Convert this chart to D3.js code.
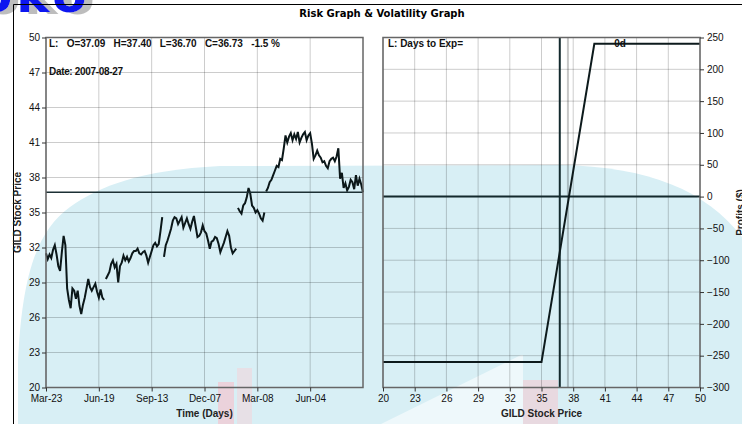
<!DOCTYPE html>
<html><head><meta charset="utf-8">
<script src="https://cdn.jsdelivr.net/npm/d3@7"></script>
<style>
html,body{margin:0;padding:0;background:#fff;}
svg{display:block;}
text{font-family:"Liberation Sans",Arial,sans-serif;}
</style></head>
<body>
<script>
// ---------- DATA ----------
const timeTickDays = [0, 60, 120, 180, 240, 300];
const timeTickLabels = ["Mar-23", "Jun-19", "Sep-13", "Dec-07", "Mar-08", "Jun-04"];
const priceTicks = [20, 23, 26, 29, 32, 35, 38, 41, 44, 47, 50];
const profitTicks = [250, 200, 150, 100, 50, 0, -50, -100, -150, -200, -250, -300];
const dayStep = 2; // trading days between samples
const closes = [
31.5,31.0,31.4,31.1,31.8,32.2,31.4,30.4,30.0,31.6,33.0,32.2,28.5,27.5,26.8,28.5,28.3,27.6,28.3,27.0,
26.3,27.1,27.7,28.5,29.3,28.6,28.3,28.6,28.9,28.2,27.7,28.4,27.7,27.5,29.3,29.6,29.9,30.6,30.9,30.3,
30.6,29.0,30.4,30.7,31.3,30.9,31.2,30.8,31.1,31.5,31.7,31.7,31.9,31.5,31.4,31.6,31.7,31.3,30.7,31.2,
31.7,32.2,32.4,32.1,32.3,33.4,34.6,31.2,32.2,32.6,33.1,33.6,34.3,34.6,34.5,34.0,34.3,34.6,33.7,34.1,
34.5,34.0,33.6,34.2,34.7,33.8,32.9,33.0,33.3,33.9,33.4,33.2,32.6,31.9,32.5,32.6,32.9,32.8,32.3,31.6,
32.0,32.4,32.9,33.4,33.0,32.0,31.5,31.7,31.9,35.4,35.1,34.9,35.6,35.8,36.3,37.1,36.6,35.6,35.4,35.0,
35.2,34.9,34.5,34.3,35.0,36.8,37.1,37.6,37.8,38.2,38.6,39.0,38.9,39.6,39.5,40.5,41.6,41.0,41.5,41.8,
41.2,41.7,41.3,41.9,41.0,41.4,41.7,41.9,41.2,41.6,41.8,40.9,39.6,39.9,40.3,39.9,39.7,39.3,39.4,39.0,
38.8,39.4,39.6,39.7,39.4,39.8,40.5,37.9,38.4,37.1,37.5,36.9,37.2,37.8,37.6,37.0,38.2,37.3,37.9,37.4,36.73];
const gapAfter = [33, 66, 108, 124]; // price gaps: no connection after these sample indices
const lastClose = 36.73;
const quoteText = "L:   O=37.09   H=37.40   L=36.70   C=36.73   -1.5 %";
const dateText = "Date: 2007-08-27";
const riskPrices = [20, 35, 40, 50];
const riskProfits = [-260, -260, 240, 240];
const markerPrice = 37.5;
const expiryLabel = "0d";

// ---------- LAYOUT ----------
const W = 742, H = 424;
const svg = d3.select("body").append("svg").attr("width", W).attr("height", H);
const defs = svg.append("defs");
defs.append("filter").attr("id", "logoShadow").attr("x", "-20%").attr("y", "-20%").attr("width", "150%").attr("height", "150%")
  .append("feDropShadow").attr("dx", 8).attr("dy", 2).attr("stdDeviation", 0.6)
  .attr("flood-color", "#bdbdbd").attr("flood-opacity", 1);

// watermark background
const wm = svg.append("g");
wm.append("path")
  .attr("d", "M18,424 L18,360 C22,280 35,232 70,207 C100,186 140,170 220,166 L560,165 C650,167 705,190 742,237 L742,424 Z")
  .attr("fill", "#d8eff5");
wm.append("path").attr("d", "M381,424 L521,355 L523,355 L523,424 Z").attr("fill", "#eef8fb");
wm.append("rect").attr("x", 523).attr("y", 380).attr("width", 35).attr("height", 44).attr("fill", "#ecd3db").attr("opacity", 0.8);
wm.append("rect").attr("x", 218).attr("y", 382).attr("width", 16).attr("height", 42).attr("fill", "#f0cbd4").attr("opacity", 0.8);
wm.append("rect").attr("x", 237).attr("y", 368).attr("width", 15).attr("height", 56).attr("fill", "#f2d6dc").attr("opacity", 0.6);

// logo
svg.append("text").attr("x", -22).attr("y", 12).attr("font-size", 50).attr("font-weight", "bold")
  .attr("letter-spacing", 4).attr("fill", "#0a14f0").attr("filter", "url(#logoShadow)")
  .style("font-family", "'DejaVu Sans',sans-serif").text("oko");

// outer frame
svg.append("path").attr("d", "M13.5,424 L13.5,4.5 L742,4.5").attr("fill", "none").attr("stroke", "#000").attr("stroke-width", 1);

// title
svg.append("text").attr("x", 382).attr("y", 17).attr("text-anchor", "middle")
  .attr("font-size", 10).attr("font-weight", "bold").style("font-family", "'DejaVu Sans',Verdana,sans-serif")
  .text("Risk Graph & Volatility Graph");

const yTop = 37.5, yBot = 387.5;
const L = {x0: 46, x1: 363};
const R = {x0: 383, x1: 700};
const gridColor = "rgba(0,0,0,0.2)";
const tickFont = g => g.selectAll("text").attr("font-size", 10).attr("fill", "#111").style("font-family", "'Liberation Sans',Arial");

// ---------- LEFT CHART ----------
const nDays = (closes.length - 1) * dayStep;
const xL = d3.scaleLinear().domain([0, nDays]).range([L.x0, L.x1]);
const yP = d3.scaleLinear().domain([20, 50]).range([yBot, yTop]);

const gl = svg.append("g");
gl.selectAll(".hg").data(priceTicks).join("line")
  .attr("x1", L.x0).attr("x2", L.x1).attr("y1", d => yP(d)).attr("y2", d => yP(d))
  .attr("stroke", gridColor);
gl.selectAll(".vg").data(timeTickDays).join("line")
  .attr("x1", d => xL(d)).attr("x2", d => xL(d)).attr("y1", yTop).attr("y2", yBot)
  .attr("stroke", gridColor);

// price line segments
const segs = [];
let start = 0;
gapAfter.concat([closes.length - 1]).forEach(g => {
  segs.push(closes.slice(start, g + 1).map((v, k) => [(start + k) * dayStep, v]));
  start = g + 1;
});
const line = d3.line().x(d => xL(d[0])).y(d => yP(d[1]));
gl.selectAll(".seg").data(segs).join("path")
  .attr("d", line).attr("fill", "none").attr("stroke", "#0b1719").attr("stroke-width", 2)
  .attr("stroke-linejoin", "miter");

// last price line
gl.append("line").attr("x1", L.x0).attr("x2", L.x1).attr("y1", yP(lastClose)).attr("y2", yP(lastClose))
  .attr("stroke", "#1c3034").attr("stroke-width", 1.5);

gl.append("rect").attr("x", L.x0).attr("y", yTop).attr("width", L.x1 - L.x0).attr("height", yBot - yTop)
  .attr("fill", "none").attr("stroke", "#666").attr("stroke-width", 1.5);

// axes
gl.append("g").attr("transform", `translate(${L.x0},0)`)
  .call(d3.axisLeft(yP).tickValues(priceTicks).tickSize(4).tickPadding(2))
  .call(g => g.select(".domain").remove())
  .call(g => g.selectAll("line").attr("stroke", "#333"))
  .call(tickFont)
  .call(g => g.selectAll("text").attr("dy", "0.28em"));
gl.append("g").attr("transform", `translate(0,${yBot})`)
  .call(d3.axisBottom(xL).tickValues(timeTickDays).tickFormat((d, i) => timeTickLabels[i]).tickSize(4).tickPadding(3))
  .call(g => g.select(".domain").remove())
  .call(g => g.selectAll("line").attr("stroke", "#333"))
  .call(tickFont);

gl.append("text").attr("x", 49).attr("y", 47).attr("font-size", 10).attr("font-weight", "bold").attr("fill", "#111")
  .attr("textLength", 231).attr("lengthAdjust", "spacing").style("white-space", "pre").text(quoteText);
gl.append("text").attr("x", 49).attr("y", 75).attr("font-size", 10).attr("font-weight", "bold").attr("fill", "#111")
  .attr("textLength", 74).attr("lengthAdjust", "spacing").text(dateText);
gl.append("text").attr("x", (L.x0 + L.x1) / 2).attr("y", 417).attr("text-anchor", "middle")
  .attr("font-size", 10).attr("font-weight", "bold").attr("fill", "#222").text("Time (Days)");
gl.append("text").attr("transform", `translate(21,${(yTop + yBot) / 2}) rotate(-90)`).attr("text-anchor", "middle")
  .attr("font-size", 10).attr("font-weight", "bold").attr("fill", "#222").text("GILD Stock Price");

// ---------- RIGHT CHART ----------
const xR = d3.scaleLinear().domain([20, 50]).range([R.x0, R.x1]);
const yR = d3.scaleLinear().domain([-300, 250]).range([yBot, yTop]);
const gr = svg.append("g");
gr.selectAll(".hg").data(profitTicks).join("line")
  .attr("x1", R.x0).attr("x2", R.x1).attr("y1", d => yR(d)).attr("y2", d => yR(d)).attr("stroke", gridColor);
gr.selectAll(".vg").data(priceTicks).join("line")
  .attr("x1", d => xR(d)).attr("x2", d => xR(d)).attr("y1", yTop).attr("y2", yBot).attr("stroke", gridColor);

gr.append("line").attr("x1", xR(markerPrice)).attr("x2", xR(markerPrice)).attr("y1", yTop).attr("y2", yBot)
  .attr("stroke", "rgba(0,0,0,0.22)").attr("stroke-width", 2);
gr.append("line").attr("x1", R.x0).attr("x2", R.x1).attr("y1", yR(0)).attr("y2", yR(0))
  .attr("stroke", "#13292d").attr("stroke-width", 2);
gr.append("line").attr("x1", xR(lastClose)).attr("x2", xR(lastClose)).attr("y1", yTop).attr("y2", yBot)
  .attr("stroke", "#13292d").attr("stroke-width", 2);

const riskLine = d3.line().x((d, i) => xR(riskPrices[i])).y((d, i) => yR(riskProfits[i]));
gr.append("path").attr("d", riskLine(riskPrices)).attr("fill", "none").attr("stroke", "#0d1a1c").attr("stroke-width", 2);

gr.append("rect").attr("x", R.x0).attr("y", yTop).attr("width", R.x1 - R.x0).attr("height", yBot - yTop)
  .attr("fill", "none").attr("stroke", "#666").attr("stroke-width", 1.5);

gr.append("g").attr("transform", `translate(${R.x1},0)`)
  .call(d3.axisRight(yR).tickValues(profitTicks).tickSize(4).tickPadding(3).tickFormat(d => d < 0 ? "\u2212" + Math.abs(d) : d))
  .call(g => g.select(".domain").remove())
  .call(g => g.selectAll("line").attr("stroke", "#333"))
  .call(tickFont);
gr.append("g").attr("transform", `translate(0,${yBot})`)
  .call(d3.axisBottom(xR).tickValues(priceTicks).tickSize(4).tickPadding(3))
  .call(g => g.select(".domain").remove())
  .call(g => g.selectAll("line").attr("stroke", "#333"))
  .call(tickFont);

gr.append("text").attr("x", 388).attr("y", 47).attr("font-size", 10).attr("font-weight", "bold").attr("fill", "#111")
  .attr("textLength", 75).attr("lengthAdjust", "spacing").text("L: Days to Exp=");
gr.append("text").attr("x", 620).attr("y", 47).attr("text-anchor", "middle").attr("font-size", 10).attr("font-weight", "bold").attr("fill", "#111")
  .text(expiryLabel);
gr.append("text").attr("x", (R.x0 + R.x1) / 2).attr("y", 417).attr("text-anchor", "middle")
  .attr("font-size", 10).attr("font-weight", "bold").attr("fill", "#222").text("GILD Stock Price");
gr.append("text").attr("transform", `translate(744,${(yTop + yBot) / 2}) rotate(-90)`).attr("text-anchor", "middle")
  .attr("font-size", 10).attr("font-weight", "bold").attr("fill", "#222").text("Profits ($)");
</script>
</body></html>
